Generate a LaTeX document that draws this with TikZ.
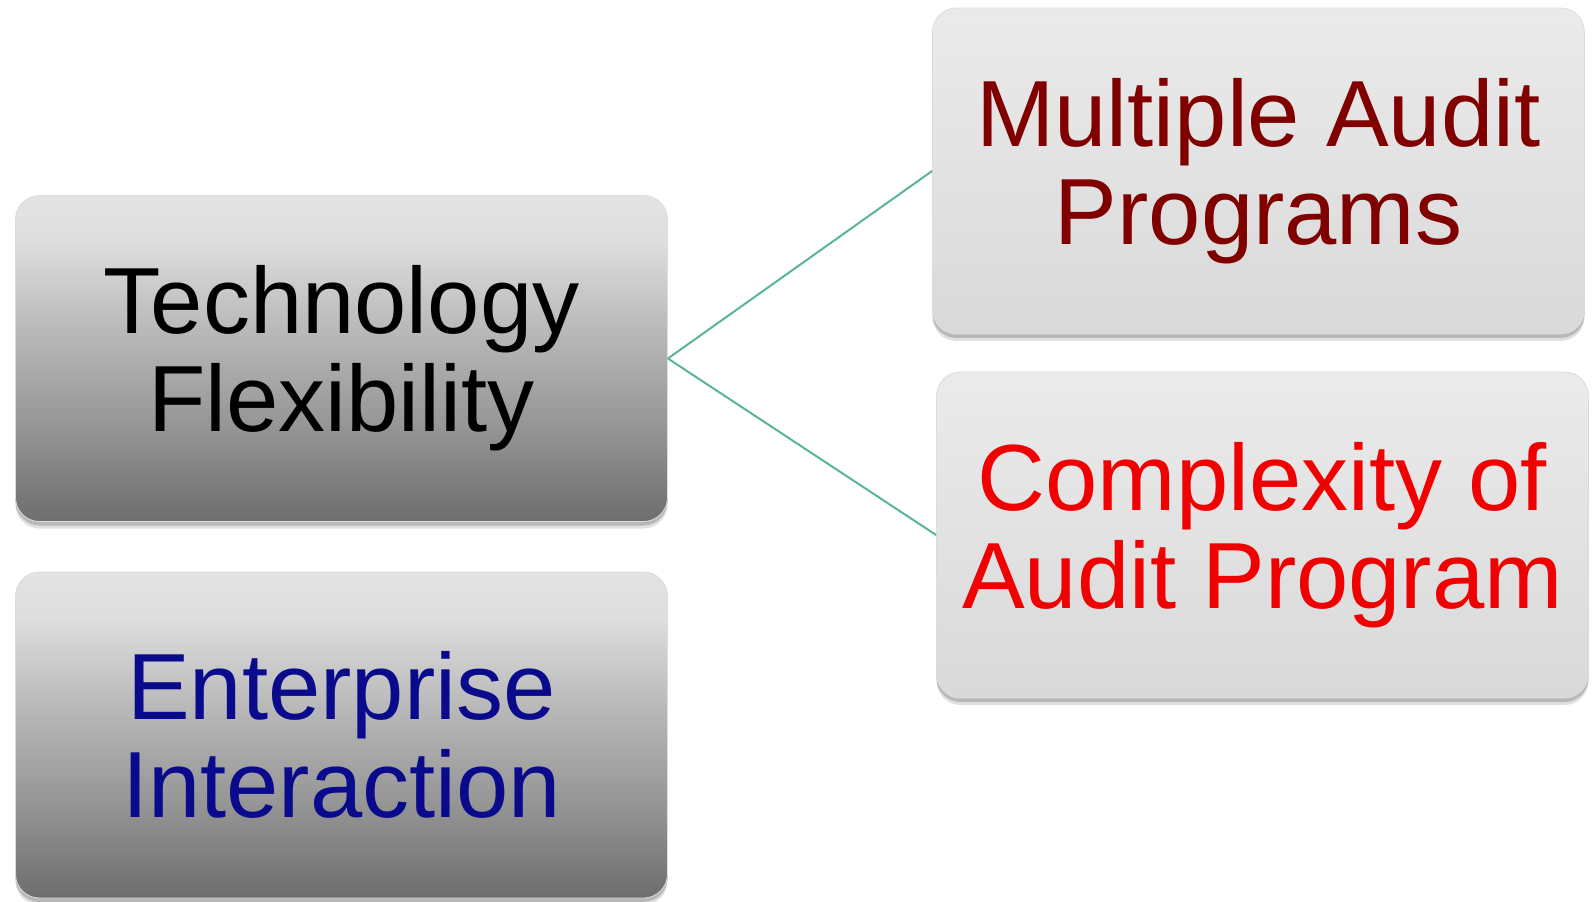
\documentclass[tikz,border=0pt]{standalone}
\usepackage{fontspec}
\setmainfont{Liberation Sans}
\usetikzlibrary{shadows}
\definecolor{lineteal}{RGB}{90,180,150}
\definecolor{maroonT}{RGB}{128,0,0}
\definecolor{redT}{RGB}{240,0,0}
\definecolor{navyT}{RGB}{10,10,140}
\definecolor{boxedge}{RGB}{220,220,220}
\pgfdeclareverticalshading{leftshade}{100bp}{color(0bp)=(black!57);color(25bp)=(black!57);color(40bp)=(black!41);color(55bp)=(black!27);color(68bp)=(black!13);color(75bp)=(black!11);color(100bp)=(black!11)}
\pgfdeclareverticalshading{rightshade}{100bp}{color(0bp)=(black!15);color(25bp)=(black!15);color(60bp)=(black!10);color(75bp)=(black!8);color(100bp)=(black!8)}
\tikzset{
  card/.style={rectangle, rounded corners=12pt, minimum width=326pt, minimum height=163pt,
    draw=boxedge, line width=0.4pt, align=center, inner sep=0pt,
    font=\fontsize{47}{49}\selectfont,
    general shadow={shadow xshift=0pt, shadow yshift=-3.5pt, opacity=0.12, fill=black},
    general shadow={shadow xshift=0pt, shadow yshift=-2pt, opacity=0.18, fill=black}},
  leftcard/.style={card, shading=leftshade},
  rightcard/.style={card, shading=rightshade},
  link/.style={draw=lineteal, line width=1pt}
}
\begin{document}
\begin{tikzpicture}
\useasboundingbox (0pt,0pt) rectangle (797.5pt,450.5pt);
\node[leftcard, text=black] (tf) at (170.75pt,271.25pt) {Technology\\Flexibility};
\node[leftcard, text=navyT] (ei) at (170.75pt,83pt) {Enterprise\\Interaction};
\node[rightcard, text=maroonT] (map) at (629.25pt,365pt) {Multiple Audit\\Programs};
\node[rightcard, text=redT] (cap) at (631.25pt,183pt) {Complexity of\\Audit Program};
\draw[link] (tf.east) -- (map.west);
\draw[link] (tf.east) -- (cap.west);
\end{tikzpicture}
\end{document}
